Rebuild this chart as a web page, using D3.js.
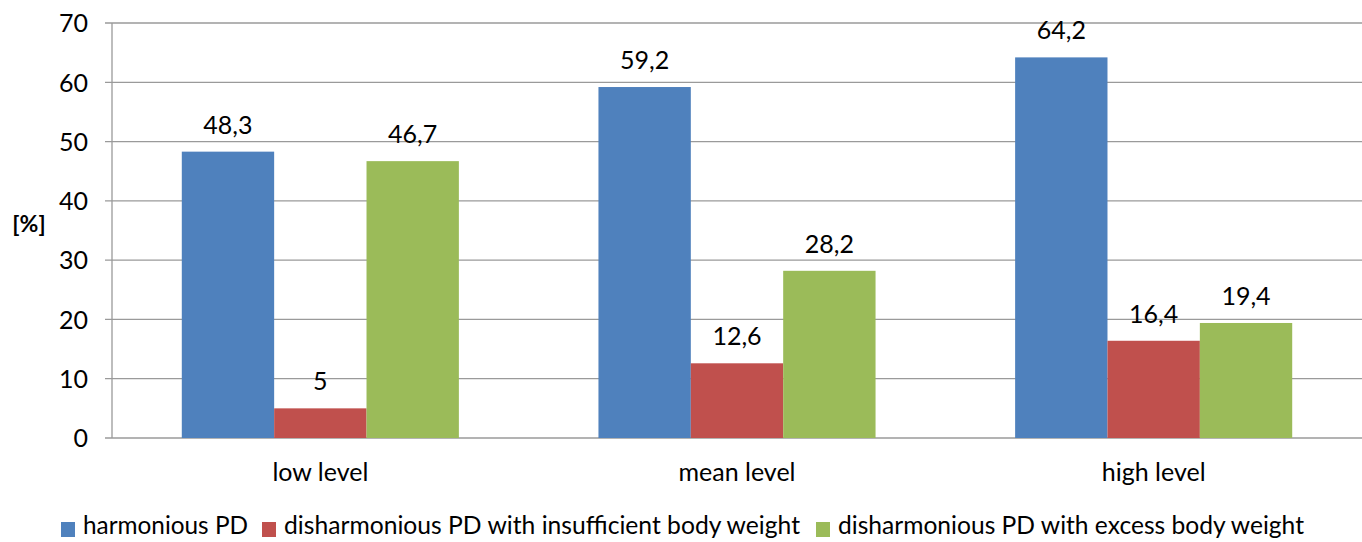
<!DOCTYPE html>
<html><head><meta charset="utf-8">
<script src="https://cdn.jsdelivr.net/npm/d3@7"></script>
<style>body{margin:0;background:#fff;} text{font-family:Lato, "Open Sans", sans-serif;fill:#000;}</style>
</head><body>
<svg id="c" width="1362" height="542"></svg>
<script>
const categories = ["low level", "mean level", "high level"];
const seriesNames = ["harmonious PD", "disharmonious PD with insufficient body weight", "disharmonious PD with excess body weight"];
const harmonious = [48.3, 59.2, 64.2];
const insufficient = [5, 12.6, 16.4];
const excess = [46.7, 28.2, 19.4];
const yTicks = [0, 10, 20, 30, 40, 50, 60, 70];
const colors = ["#4F81BD", "#C0504D", "#9BBB59"];
const series = [harmonious, insufficient, excess];

const svg = d3.select("#c");
const pLeft = 112, pRight = 1362, pTop = 23, pBottom = 438;
const fs = 25;
const y = d3.scaleLinear().domain([0, 70]).range([pBottom, pTop]);
const x0 = d3.scaleBand().domain(categories).range([pLeft, pRight]).paddingInner(0.335).paddingOuter(0.1675);
const x1 = d3.scaleBand().domain(d3.range(3)).range([0, x0.bandwidth()]);

// gridlines
svg.append("g").selectAll("line").data(yTicks).join("line")
  .attr("x1", pLeft - 7).attr("x2", pRight).attr("y1", d => y(d)).attr("y2", d => y(d))
  .attr("stroke", "#9a9a9a").attr("stroke-width", 1.3);
svg.append("line").attr("x1", pLeft).attr("x2", pLeft).attr("y1", pTop).attr("y2", pBottom)
  .attr("stroke", "#9a9a9a").attr("stroke-width", 1.3);

// y axis labels
const yAxis = d3.axisLeft(y).tickValues(yTicks).tickSize(0).tickPadding(0);
const ga = svg.append("g").attr("transform", `translate(${pLeft - 24},0)`).call(yAxis);
ga.select(".domain").remove();
ga.selectAll("text").style("font-size", fs + "px").style("font-family", "Lato, sans-serif").attr("fill", "#000").attr("dy", "0.35em");

svg.append("text").attr("x", 29).attr("y", 232).attr("text-anchor", "middle")
  .style("font-size", "23px").style("font-weight", "bold").text("[%]");

// bars
const groups = svg.append("g").selectAll("g").data(categories).join("g")
  .attr("transform", d => `translate(${x0(d)},0)`);
groups.each(function(cat, ci) {
  const g = d3.select(this);
  series.forEach((s, si) => {
    const v = s[ci];
    g.append("rect").attr("x", x1(si)).attr("width", x1.bandwidth())
      .attr("y", y(v)).attr("height", y(0) - y(v)).attr("fill", colors[si]);
    g.append("text").attr("x", x1(si) + x1.bandwidth() / 2).attr("y", y(v) - 18)
      .attr("text-anchor", "middle").style("font-size", fs + "px")
      .text(String(v).replace(".", ","));
  });
});

// x axis labels
const xAxis = d3.axisBottom(x0).tickSize(0).tickPadding(0);
const gx = svg.append("g").attr("transform", `translate(0,${pBottom})`).call(xAxis);
gx.select(".domain").remove();
gx.selectAll("text").style("font-size", fs + "px").style("font-family", "Lato, sans-serif").attr("fill", "#000").attr("dy", "0").attr("y", 43);

// legend
const legX = [61, 262, 816];
const legW = [165, 516, 466];
const lg = svg.append("g");
seriesNames.forEach((n, i) => {
  lg.append("rect").attr("x", legX[i]).attr("y", 522).attr("width", 14).attr("height", 15).attr("fill", colors[i]);
  const t = lg.append("text").attr("x", legX[i] + 22).attr("y", 534).style("font-size", fs + "px").text(n);
  const w = t.node().getComputedTextLength();
  if (w > legW[i]) t.attr("textLength", legW[i]).attr("lengthAdjust", "spacingAndGlyphs");
});
</script>
</body></html>
